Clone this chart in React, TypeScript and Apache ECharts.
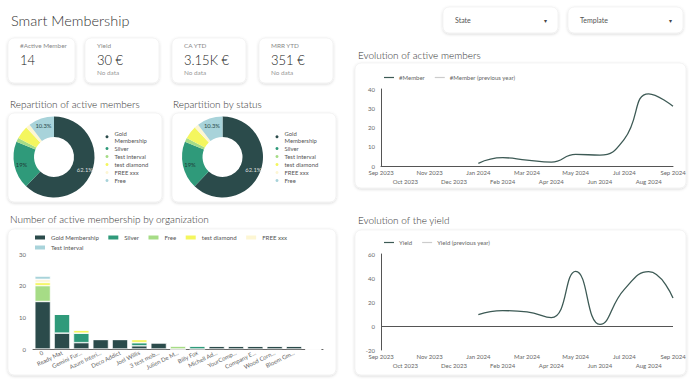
import React, { useEffect, useRef } from "react";
import * as echarts from "echarts";

const FONT = "Lato, 'Noto Sans', sans-serif";
const LIGHT = 300;
const REG = 400;

// ---------- data ----------
const pageTitle = "Smart Membership";
const filterLabels = ["State", "Template"];

const kpiLabels = ["#Active Member", "Yield", "CA YTD", "MRR YTD"];
const kpiValues = ["14", "30 €", "3.15K €", "351 €"];
const kpiNotes = ["", "No data", "No data", "No data"];

const months = [
  "Sep 2023", "Oct 2023", "Nov 2023", "Dec 2023", "Jan 2024", "Feb 2024", "Mar 2024",
  "Apr 2024", "May 2024", "Jun 2024", "Jul 2024", "Aug 2024", "Sep 2024",
];
const memberValues = [null, null, null, null, 1.4, 4.3, 3.1, 2, 6, 5.7, 14, 37.5, 31];
const memberPrevYear = [null, null, null, null, null, null, null, null, null, null, null, null, null];
const yieldValues = [null, null, null, null, 9.5, 12.8, 11.8, 7, 45.5, 1.3, 30.5, 45.3, 23.3];
const yieldPrevYear = [null, null, null, null, null, null, null, null, null, null, null, null, null];

const pieNames = ["Gold Membership", "Silver", "Test interval", "test diamond", "FREE xxx", "Free"];
const pieValues = [62.1, 19, 1.7, 5.2, 1.7, 10.3];
const pieStatusValues = [62.1, 19, 1.7, 5.2, 1.7, 10.3];

const orgs = [
  "0", "Ready Mat", "Gemini Fur...", "Azure Interi...", "Deco Addict", "Joel Willis",
  "3 test mob...", "Julien De M...", "Billy Fox", "Michell Ad...", "YourComp...",
  "Company E...", "Wood Corn...", "Bloem Gm...", "",
];
const barSeriesNames = ["Gold Membership", "Silver", "Free", "test diamond", "FREE xxx", "Test interval"];
const goldByOrg = [15, 5, 2, 3, 3, 1, 2, 0, 0, 1, 1, 1, 1, 1, 0];
const silverByOrg = [0, 6, 3, 0, 0, 1, 0, 0, 1, 0, 0, 0, 0, 0, 0];
const freeByOrg = [5, 0, 0, 0, 0, 0, 0, 1, 0, 0, 0, 0, 0, 0, 0];
const diamondByOrg = [1, 0, 1, 0, 0, 1, 0, 0, 0, 0, 0, 0, 0, 0, 0];
const freeXxxByOrg = [1, 0, 0, 0, 0, 0, 0, 0, 0, 0, 0, 0, 0, 0, 0];
const testIntervalByOrg = [1, 0, 0, 0, 0, 0, 0, 0, 0, 0, 0, 0, 0, 0, 0];
const barValues = [goldByOrg, silverByOrg, freeByOrg, diamondByOrg, freeXxxByOrg, testIntervalByOrg];

// ---------- styles ----------
const DARK = "#2b4b4b";
const TEAL = "#2f9a7a";
const LGREEN = "#a6dc86";
const YELLOW = "#f4f65e";
const CREAM = "#fdf6d3";
const LBLUE = "#a8d3da";
const LINE = "#3d5a55";
const PREV = "#cccccc";
const AXIS = "#555555";

const pieColors = [DARK, TEAL, LGREEN, YELLOW, CREAM, LBLUE];
const pieLabelColors = ["#dddddd", "#1f3b38", "#333", "#333", "#333", "#2b4b4b"];
const barColors = [DARK, TEAL, LGREEN, YELLOW, CREAM, LBLUE];

const kpiCards = [
  [8, 38, 67, 45],
  [85, 38, 74, 45],
  [172, 38, 74, 45],
  [259, 38, 74, 45],
];
const filterBoxes = [
  [443, 7, 115, 26],
  [568, 7, 115, 26],
];

function card(x: number, y: number, w: number, h: number) {
  return {
    type: "rect",
    z: 0,
    shape: { x, y, width: w, height: h, r: 6 },
    style: {
      fill: "#fff",
      stroke: "#ededed",
      lineWidth: 0.6,
      shadowBlur: 3,
      shadowOffsetY: 1,
      shadowColor: "rgba(0,0,0,0.16)",
    },
  };
}
function txt(text: string, x: number, y: number, size: number, color: string, weight: number) {
  return {
    type: "text",
    z: 5,
    x,
    y,
    style: {
      text,
      fill: color,
      fontSize: size,
      fontFamily: FONT,
      fontWeight: weight,
      align: "left",
      verticalAlign: "middle",
    },
  };
}

function buildOption() {
  const graphics: any[] = [];
  graphics.push(txt(pageTitle, 11, 20, 14.5, "#333", LIGHT));
  kpiCards.forEach((c, i) => {
    graphics.push(card(c[0], c[1], c[2], c[3]));
    const tx = c[0] + 12;
    graphics.push(txt(kpiLabels[i], tx, 45.5, 6.4, "#8a8a8a", REG));
    graphics.push(txt(kpiValues[i], tx, 60, 13, "#222", LIGHT));
    if (kpiNotes[i]) graphics.push(txt(kpiNotes[i], tx, 72, 6.4, "#999", REG));
  });
  filterBoxes.forEach((b, i) => {
    graphics.push(card(b[0], b[1], b[2], b[3]));
    graphics.push(txt(filterLabels[i], b[0] + 12, 20, 7, "#555", REG));
    graphics.push(txt("▾", b[0] + b[2] - 14, 20, 6, "#444", REG));
  });
  // panel cards
  graphics.push(card(8, 113, 154, 89));
  graphics.push(card(172, 113, 164, 89));
  graphics.push(card(8, 229, 328, 146));
  graphics.push(card(355, 63, 331, 125));
  graphics.push(card(355, 230, 331, 145));
  // section titles
  graphics.push(txt("Repartition of active members", 10, 104, 10, "#333", LIGHT));
  graphics.push(txt("Repartition by status", 173, 104, 10, "#333", LIGHT));
  graphics.push(txt("Number of active membership by organization", 10, 219, 10, "#333", LIGHT));
  graphics.push(txt("Evolution of active members", 358, 55, 10, "#333", LIGHT));
  graphics.push(txt("Evolution of the yield", 358, 220, 10, "#333", LIGHT));

  const axisText = { fontSize: 6, color: "#666", fontFamily: FONT, fontWeight: REG };

  const monthAxis = (grid: number, showLine: boolean, margin: number, lh: number) => ({
    type: "category",
    gridIndex: grid,
    data: months,
    boundaryGap: false,
    axisLine: { show: showLine, lineStyle: { color: AXIS, width: 1 } },
    axisTick: { show: false },
    splitLine: { show: false },
    axisLabel: {
      ...axisText,
      interval: 0,
      margin,
      lineHeight: lh,
      formatter: (v: string, i: number) => (i % 2 === 1 ? "\n" + v : v),
    },
  });

  const pieData = (vals: number[]) =>
    pieNames.map((n, i) => ({
      name: n,
      value: vals[i],
      itemStyle: { color: pieColors[i] },
      label: { show: vals[i] >= 10, color: pieLabelColors[i] },
    }));

  const pieSeries = (cx: number, vals: number[]) => ({
    type: "pie",
    center: [cx, 157],
    radius: [20, 40.5],
    startAngle: 90,
    clockwise: true,
    avoidLabelOverlap: false,
    silent: true,
    label: {
      position: "inside",
      fontSize: 5.8,
      fontFamily: FONT,
      fontWeight: REG,
      formatter: (p: any) => p.value + "%",
    },
    labelLine: { show: false },
    data: pieData(vals),
  });

  const pieLegend = (left: number) => ({
    orient: "vertical",
    left,
    top: 129.3,
    padding: 0,
    icon: "circle",
    itemWidth: 5,
    itemHeight: 5,
    itemGap: 0.5,
    textStyle: { fontSize: 5.9, color: "#555", fontFamily: FONT, fontWeight: REG, lineHeight: 7.5 },
    formatter: (n: string) => (n === "Gold Membership" ? "Gold\nMembership" : n),
    data: pieNames.map((n, i) => ({ name: n, itemStyle: { color: pieColors[i] } })),
  });

  const barLegendItem = (i: number) => ({ name: barSeriesNames[i], itemStyle: { color: barColors[i] } });
  const barLegendText = { fontSize: 6.1, color: "#555", fontFamily: FONT, fontWeight: REG };
  const lineLegendText = { fontSize: 6, color: "#666", fontFamily: FONT, fontWeight: REG };

  const option: any = {
    animation: false,
    backgroundColor: "#fff",
    textStyle: { fontFamily: FONT },
    graphic: { elements: graphics },
    legend: [
      {
        left: 384,
        top: 74.5,
        padding: 0,
        icon: "rect",
        itemWidth: 10,
        itemHeight: 1.2,
        itemGap: 10,
        textStyle: lineLegendText,
        data: [
          { name: "#Member", itemStyle: { color: LINE } },
          { name: "#Member (previous year)", itemStyle: { color: PREV } },
        ],
      },
      {
        left: 384,
        top: 239.5,
        padding: 0,
        icon: "rect",
        itemWidth: 10,
        itemHeight: 1.2,
        itemGap: 10,
        textStyle: lineLegendText,
        data: [
          { name: "Yield", itemStyle: { color: LINE } },
          { name: "Yield (previous year)", itemStyle: { color: PREV } },
        ],
      },
      pieLegend(103.5),
      pieLegend(273.5),
      {
        left: 33,
        top: 233.5,
        padding: 0,
        icon: "rect",
        itemWidth: 12,
        itemHeight: 6,
        itemGap: 7.5,
        textStyle: barLegendText,
        data: [0, 1, 2, 3, 4].map(barLegendItem),
      },
      {
        left: 33,
        top: 243.5,
        padding: 0,
        icon: "rect",
        itemWidth: 12,
        itemHeight: 6,
        itemGap: 7.5,
        textStyle: barLegendText,
        data: [5].map(barLegendItem),
      },
    ],
    grid: [
      { left: 381, top: 89, width: 292, height: 77 },
      { left: 381, top: 254, width: 292, height: 96 },
      { left: 33, top: 254, width: 290, height: 95 },
    ],
    xAxis: [
      monthAxis(0, true, 1.5, 9),
      monthAxis(1, false, 2.5, 8.5),
      {
        type: "category",
        gridIndex: 2,
        data: orgs,
        axisLine: { lineStyle: { color: "#666", width: 1 } },
        axisTick: { show: false },
        axisLabel: { ...axisText, fontSize: 5.9, interval: 0, rotate: 26, margin: 3 },
      },
    ],
    yAxis: [
      {
        type: "value",
        gridIndex: 0,
        min: 0,
        max: 40,
        interval: 10,
        axisLine: { show: true, lineStyle: { color: AXIS, width: 1 } },
        axisTick: { show: false },
        splitLine: { show: false },
        axisLabel: { ...axisText, margin: 6 },
      },
      {
        type: "value",
        gridIndex: 1,
        min: -20,
        max: 60,
        interval: 20,
        axisLine: { show: true, lineStyle: { color: AXIS, width: 1 } },
        axisTick: { show: false },
        splitLine: { show: false },
        axisLabel: { ...axisText, margin: 6 },
      },
      {
        type: "value",
        gridIndex: 2,
        min: 0,
        max: 30,
        interval: 10,
        axisLine: { show: false },
        axisTick: { show: false },
        splitLine: { show: false },
        axisLabel: { ...axisText, margin: 7 },
      },
    ],
    series: [
      {
        name: "#Member",
        type: "line",
        xAxisIndex: 0,
        yAxisIndex: 0,
        smooth: true,
        symbol: "none",
        lineStyle: { color: LINE, width: 1.3 },
        itemStyle: { color: LINE },
        data: memberValues,
      },
      {
        name: "#Member (previous year)",
        type: "line",
        xAxisIndex: 0,
        yAxisIndex: 0,
        smooth: true,
        symbol: "none",
        lineStyle: { color: PREV, width: 1 },
        itemStyle: { color: PREV },
        data: memberPrevYear,
      },
      {
        name: "Yield",
        type: "line",
        xAxisIndex: 1,
        yAxisIndex: 1,
        smooth: true,
        symbol: "none",
        lineStyle: { color: LINE, width: 1.3 },
        itemStyle: { color: LINE },
        data: yieldValues,
        markLine: {
          silent: true,
          symbol: "none",
          label: { show: false },
          lineStyle: { color: AXIS, type: "solid", width: 1 },
          data: [{ yAxis: 0 }],
        },
      },
      {
        name: "Yield (previous year)",
        type: "line",
        xAxisIndex: 1,
        yAxisIndex: 1,
        smooth: true,
        symbol: "none",
        lineStyle: { color: PREV, width: 1 },
        itemStyle: { color: PREV },
        data: yieldPrevYear,
      },
      pieSeries(54, pieValues),
      pieSeries(222.5, pieStatusValues),
      ...barSeriesNames.map((n, i) => ({
        name: n,
        type: "bar",
        stack: "org",
        xAxisIndex: 2,
        yAxisIndex: 2,
        barCategoryGap: "19%",
        itemStyle: { color: barColors[i], borderColor: "#fff", borderWidth: 0.6 },
        data: barValues[i],
      })),
    ],
  };
  return option;
}

export default function App() {
  const ref = useRef<HTMLDivElement>(null);
  useEffect(() => {
    if (!ref.current) return;
    const chart = echarts.init(ref.current, undefined, { renderer: "svg" });
    chart.setOption(buildOption());
    return () => chart.dispose();
  }, []);
  return (
    <div
      ref={ref}
      style={{ position: "fixed", left: 0, top: 0, width: 690, height: 380, background: "#fff" }}
    />
  );
}
